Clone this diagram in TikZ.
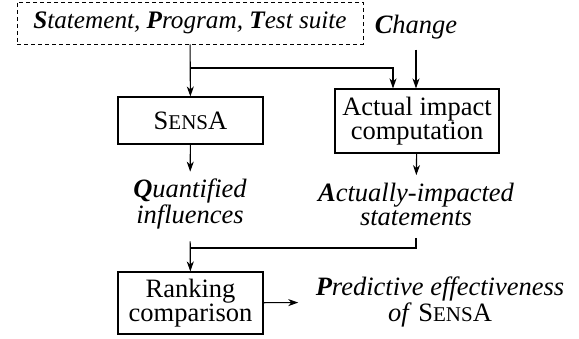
\documentclass[tikz,border=0pt]{standalone}
\usepackage{fontspec}
\setmainfont{Liberation Serif}[
  ItalicFont={Liberation Serif Italic},
  BoldItalicFont={Liberation Serif Bold Italic}]
\usetikzlibrary{arrows.meta,positioning}
\newcommand{\bi}[1]{\textbf{\textit{#1}}}
\newcommand{\sensa}{S{\fontsize{21}{21}\selectfont ENS}A}

\begin{document}
\begin{tikzpicture}[
  x=1pt, y=-1pt,
  font=\fontsize{26.5}{24}\selectfont,
  >={Stealth[length=10pt,width=7pt,inset=3pt]},
  every path/.style={line width=1.1pt},
  box/.style={draw, align=center, minimum width=145pt, inner sep=0pt},
  txt/.style={align=center, inner sep=0pt, font=\fontsize{26.5}{24}\selectfont\itshape}
]
\useasboundingbox (0,0) rectangle (579,339);

\node[draw, dashed, dash pattern=on 4pt off 3pt, line width=0.9pt,
  minimum width=346pt, minimum height=42pt, inner sep=0pt,
  font=\fontsize{25.2}{24}\selectfont\itshape] (input) at (190,23)
  {\bi{S}tatement, \bi{P}rogram, \bi{T}est suite};
\node[txt] (change) at (416,27) {\bi{C}hange};
\node[box, minimum height=47pt] (sensa) at (190.5,120.5) {\sensa};
\node[box, minimum width=164pt, minimum height=64pt] (actual) at (417,121)
  {Actual impact\\computation};
\node[txt] (quant) at (190,204) {\bi{Q}uantified\\influences};
\node[txt] (stmts) at (416,204) {\bi{A}ctually-impacted\\statements};
\node[box, minimum height=62pt] (rank) at (190.5,303) {Ranking\\comparison};
\node[txt] (pred) at (440,302) {\bi{P}redictive effectiveness\\of \textup{\sensa}};

% inputs
\coordinate (split) at (190,68);
\coordinate (actualin) at ([xshift=-24pt]actual.north);
\draw[->] (input) -- (sensa);
\draw[->] (split) -| (actualin);
\draw[->, shorten <=10pt] (change) -- (change |- actual.north);

% outputs
\draw[->, shorten >=7pt] (sensa) -- (quant);
\draw[->, shorten >=7pt] (actual) -- (stmts);
\coordinate (merge) at (190,248);
\draw[shorten <=12pt] (stmts.south) |- (merge);
\draw[->, shorten <=12pt] (quant) -- (rank);
\draw[->, shorten >=17pt] (rank) -- (pred);
\end{tikzpicture}
\end{document}
